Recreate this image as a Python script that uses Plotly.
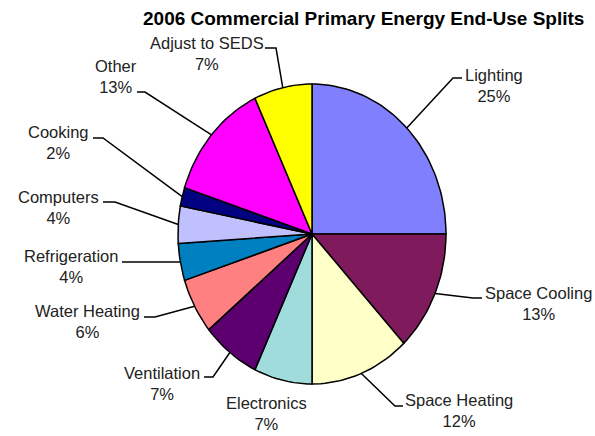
import numpy as np
import plotly.graph_objects as go

# ---- data ----
categories = ["Lighting", "Space Cooling", "Space Heating", "Electronics", "Ventilation",
              "Water Heating", "Refrigeration", "Computers", "Cooking", "Other", "Adjust to SEDS"]
values = [25, 13, 12, 7, 7, 6, 4, 4, 2, 13, 7]
title_text = "2006 Commercial Primary Energy End-Use Splits"

# ---- style ----
colors = ["#8080FF", "#7F1A5C", "#FFFFC8", "#A0DCDC", "#5C0070", "#FF8080",
          "#0080C0", "#C0C0FF", "#000080", "#FF00FF", "#FFFF00"]
W, H = 595, 436
CX, CY, RX, RY = 312, 234, 134, 150   # pie placement (pixel space)
# label layout: (elbow x, elbow y, end x, text x, text y) ; None = no leader
label_layout = {
    "Lighting": (453, 78, 462, 494, 85),
    "Space Cooling": (473, 298, 482, 538, 303),
    "Space Heating": (395, 406, 403, 459, 410),
    "Electronics": (None, None, None, 266, 413),
    "Ventilation": (213, 377, 204, 162, 383),
    "Water Heating": (155, 317, 144, 87, 321),
    "Refrigeration": (122, 262, 122, 71, 266),
    "Computers": (115, 202, 103, 58, 207),
    "Cooking": (103, 138, 93, 58, 142),
    "Other": (145, 92, 137, 116, 76),
    "Adjust to SEDS": (276, 48, 265, 207, 53),
}
font_family = "Liberation Sans, Arial, sans-serif"

fig = go.Figure()
total = float(sum(values))
cum = 0.0
annotations = []
for cat, v, col in zip(categories, values, colors):
    a0 = cum / total * 2 * np.pi
    a1 = (cum + v) / total * 2 * np.pi
    n = max(4, int(200 * v / total))
    th = np.linspace(a0, a1, n)
    xs = np.concatenate([[CX], CX + RX * np.sin(th), [CX]])
    ys = np.concatenate([[CY], CY - RY * np.cos(th), [CY]])
    fig.add_trace(go.Scatter(x=xs, y=ys, mode="lines", fill="toself", fillcolor=col,
                             line=dict(color="black", width=1.5), hoverinfo="text",
                             text=f"{cat}: {v}%", showlegend=False))
    am = (a0 + a1) / 2
    ex, ey = CX + RX * np.sin(am), CY - RY * np.cos(am)
    bx, by, endx, tx, ty = label_layout[cat]
    if bx is not None:
        fig.add_trace(go.Scatter(x=[ex, bx, endx], y=[ey, by, by], mode="lines",
                                 line=dict(color="black", width=1.5), hoverinfo="skip",
                                 showlegend=False))
    pct = round(v / total * 100)
    annotations.append(dict(x=tx, y=ty, xref="x", yref="y", text=f"{cat}<br>{pct}%",
                            showarrow=False, align="center", xanchor="center", yanchor="middle",
                            font=dict(family=font_family, size=16.5, color="#222222")))
    cum += v

annotations.append(dict(x=363, y=18, xref="x", yref="y", text=f"<b>{title_text}</b>",
                        showarrow=False, xanchor="center", yanchor="middle",
                        font=dict(family=font_family, size=19, color="black")))

fig.update_layout(
    width=W, height=H, margin=dict(l=0, r=0, t=0, b=0),
    paper_bgcolor="white", plot_bgcolor="white",
    xaxis=dict(range=[0, W], visible=False, fixedrange=True),
    yaxis=dict(range=[H, 0], visible=False, fixedrange=True),
    annotations=annotations, showlegend=False,
)
fig.write_html("out.html", config={"displayModeBar": False},
               post_script="document.body.style.margin='0';document.body.style.overflow='hidden';")
